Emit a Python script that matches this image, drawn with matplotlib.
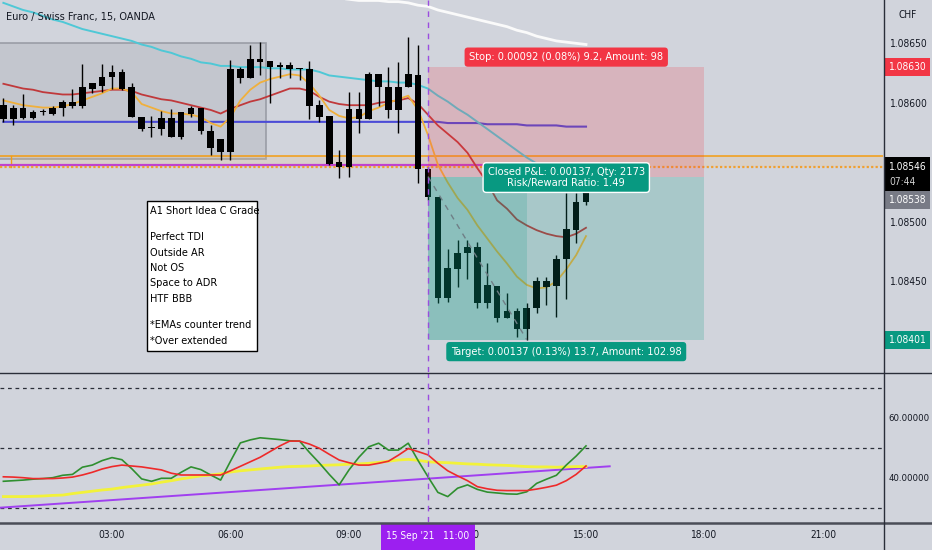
import matplotlib
matplotlib.use('Agg')
import matplotlib.pyplot as plt
from matplotlib.patches import Rectangle
from matplotlib import font_manager
from matplotlib.font_manager import FontProperties

# pick a condensed sans font if one is installed
_path = None
_entries = font_manager.fontManager.ttflist


def _regular(f):
    return f.style == 'normal' and f.weight in (400, 'normal', 'regular', 'book')


for test in (lambda f: f.name == 'Liberation Sans Narrow',
             lambda f: f.name == 'DejaVu Sans' and 'condensed' in str(f.stretch),
             lambda f: 'Condensed' in f.name or 'Narrow' in f.name):
    hits = [f for f in _entries if test(f) and _regular(f)]
    if hits:
        _path = hits[0].fname
        break
SCALE = 1.0 if _path else 0.88
plt.rcParams['font.family'] = ['Liberation Sans', 'DejaVu Sans']


def fp(size):
    if _path:
        return FontProperties(fname=_path, size=size)
    return FontProperties(family=['Liberation Sans', 'DejaVu Sans'], size=size * SCALE)


BG = '#d1d4dc'
TXT = '#131722'

# ---------------- data ----------------
bar_times = [0.25 * (i + 1) for i in range(60)]  # hours after 00:00, 15-minute bars

opens = [1.08598,1.08586,1.08596,1.08587,1.08592,1.08591,1.08596,1.08601,1.08597,1.08612,
         1.08614,1.08622,1.08626,1.08613,1.08588,1.08579,1.08578,1.08587,1.08571,1.08591,
         1.08596,1.08576,1.08570,1.08559,1.08628,1.08621,1.08637,1.08635,1.08630,1.08632,
         1.08629,1.08628,1.08598,1.08589,1.08550,1.08546,1.08595,1.08586,1.08624,1.08613,
         1.08594,1.08613,1.08623,1.08544,1.08521,1.08436,1.08460,1.08474,1.08479,1.08432,
         1.08446,1.08419,1.08425,1.08410,1.08428,1.08450,1.08446,1.08469,1.08493,1.08517]
highs = [1.08604,1.08598,1.08607,1.08594,1.08595,1.08597,1.08602,1.08612,1.08633,1.08617,
         1.08633,1.08632,1.08628,1.08617,1.08588,1.08589,1.08593,1.08595,1.08592,1.08597,
         1.08596,1.08581,1.08570,1.08636,1.08630,1.08649,1.08651,1.08635,1.08634,1.08634,
         1.08629,1.08635,1.08602,1.08589,1.08560,1.08609,1.08609,1.08626,1.08624,1.08630,
         1.08634,1.08655,1.08649,1.08546,1.08521,1.08477,1.08485,1.08485,1.08483,1.08465,
         1.08446,1.08440,1.08428,1.08432,1.08454,1.08454,1.08472,1.08524,1.08524,1.08525]
lows = [1.08584,1.08581,1.08586,1.08586,1.08590,1.08590,1.08589,1.08596,1.08596,1.08608,
        1.08609,1.08612,1.08611,1.08588,1.08576,1.08571,1.08573,1.08571,1.08570,1.08588,
        1.08574,1.08556,1.08552,1.08552,1.08617,1.08621,1.08623,1.08600,1.08621,1.08621,
        1.08619,1.08586,1.08584,1.08548,1.08537,1.08538,1.08575,1.08586,1.08597,1.08587,
        1.08575,1.08613,1.08533,1.08518,1.08432,1.08433,1.08445,1.08452,1.08428,1.08428,
        1.08416,1.08419,1.08403,1.08401,1.08423,1.08430,1.08420,1.08435,1.08482,1.08514]
closes = [1.08586,1.08596,1.08587,1.08592,1.08592,1.08596,1.08601,1.08597,1.08613,1.08617,
          1.08622,1.08626,1.08612,1.08588,1.08578,1.08579,1.08587,1.08571,1.08592,1.08596,
          1.08576,1.08562,1.08559,1.08628,1.08621,1.08637,1.08634,1.08630,1.08632,1.08628,
          1.08628,1.08597,1.08588,1.08549,1.08546,1.08595,1.08586,1.08624,1.08613,1.08594,
          1.08613,1.08624,1.08544,1.08521,1.08436,1.08461,1.08474,1.08479,1.08432,1.08447,
          1.08419,1.08425,1.08410,1.08428,1.08450,1.08445,1.08469,1.08494,1.08517,1.08524]

ema_red = [1.08616,1.08614,1.08612,1.08611,1.08609,1.08608,1.08607,1.08607,1.08608,1.08609,
           1.08610,1.08611,1.08611,1.08610,1.08607,1.08605,1.08603,1.08602,1.08600,1.08598,
           1.08596,1.08594,1.08591,1.08595,1.08598,1.08601,1.08603,1.08606,1.08609,1.08612,
           1.08612,1.08610,1.08605,1.08601,1.08599,1.08598,1.08598,1.08598,1.08600,1.08601,
           1.08602,1.08604,1.08599,1.08590,1.08581,1.08574,1.08567,1.08558,1.08545,1.08533,
           1.08518,1.08511,1.08502,1.08497,1.08493,1.08490,1.08488,1.08487,1.08490,1.08495]
ema_orange = [1.08602,1.08600,1.08598,1.08597,1.08596,1.08596,1.08597,1.08599,1.08602,1.08605,
              1.08608,1.08612,1.08612,1.08609,1.08599,1.08596,1.08593,1.08591,1.08591,1.08590,
              1.08588,1.08583,1.08580,1.08588,1.08602,1.08611,1.08617,1.08620,1.08622,1.08624,
              1.08623,1.08616,1.08606,1.08594,1.08589,1.08587,1.08588,1.08593,1.08596,1.08600,
              1.08603,1.08606,1.08594,1.08573,1.08548,1.08533,1.08520,1.08510,1.08497,1.08486,
              1.08475,1.08465,1.08454,1.08447,1.08444,1.08445,1.08450,1.08460,1.08472,1.08488]
ema_cyan = [1.08684,1.08681,1.08678,1.08676,1.08673,1.08670,1.08668,1.08665,1.08662,1.08660,
            1.08658,1.08656,1.08654,1.08652,1.08649,1.08647,1.08644,1.08642,1.08639,1.08637,
            1.08634,1.08633,1.08631,1.08631,1.08630,1.08630,1.08630,1.08629,1.08629,1.08628,
            1.08628,1.08628,1.08626,1.08623,1.08622,1.08621,1.08620,1.08619,1.08618,1.08618,
            1.08617,1.08617,1.08615,1.08612,1.08606,1.08601,1.08595,1.08590,1.08584,1.08578,
            1.08572,1.08566,1.08560,1.08554,1.08549,1.08544,1.08538,1.08533,1.08528,1.08523]
ema_white = [1.08695,1.08693,1.08691,1.08690,1.08688,1.08687,1.08686,1.08686,1.08686,1.08685,
             1.08685,1.08684,1.08682,1.08681,1.08678,1.08676,1.08674,1.08672,1.08670,1.08668,
             1.08666,1.08664,1.08661,1.08659,1.08656,1.08654,1.08652,1.08651,1.08650,1.08649]  # bars 30..59
ema_blue = [1.08584] * 45 + [1.08583] * 4 + [1.08582] * 4 + [1.08581] * 4 + [1.08580] * 3

tdi_green = [38.9,39.1,39.3,39.6,39.8,40.1,40.9,41.2,43.6,44.3,
             45.8,46.8,46.1,43.1,39.7,38.9,39.9,39.9,41.9,43.7,
             42.8,41.0,39.3,45.6,51.7,52.7,53.4,53.1,52.8,52.4,
             52.3,48.5,45.0,41.2,37.7,42.7,46.9,50.4,51.6,49.3,
             49.3,51.6,45.8,40.4,35.2,33.8,36.6,37.7,36.2,35.3,
             35.0,34.7,34.6,35.4,38.2,39.6,40.9,44.3,47.3,50.7]
tdi_red = [40.4,40.3,40.1,39.8,39.8,39.8,40.0,40.3,41.0,41.9,
           43.0,43.8,44.3,44.0,43.7,43.2,42.7,41.6,41.0,41.0,
           41.0,41.0,41.0,42.4,43.9,45.4,46.9,48.8,50.7,52.3,
           52.3,51.3,49.9,47.9,46.0,45.1,44.3,44.3,44.9,45.6,
           47.6,49.8,48.8,47.7,44.9,42.4,40.7,39.1,37.1,36.4,
           35.9,35.8,35.8,35.8,36.3,36.9,37.6,39.1,41.2,44.0]
tdi_yellow = [33.8,33.8,33.8,33.9,34.0,34.2,34.3,34.8,35.2,35.6,
              36.0,36.3,36.8,37.2,37.6,38.0,38.6,39.1,39.7,40.2,
              40.7,41.0,41.4,42.0,42.4,42.7,43.0,43.3,43.6,43.8,
              43.9,44.0,44.2,44.3,44.4,44.6,44.7,44.9,45.2,45.6,
              46.0,46.2,45.9,45.4,45.2,45.1,44.9,44.7,44.6,44.4,
              44.3,44.2,44.0,43.8,43.7,43.7,43.6,43.7,43.8,43.8]
tdi_trend_t = [0.16, 15.6]
tdi_trend_v = [30.1, 43.9]
tdi_levels = [70, 50, 30]

entry_t, exit_t, end_t = 11.0, 13.5, 18.0
entry_p, stop_p, target_p = 1.08538, 1.08630, 1.08401
last_price, pending_price = 1.08546, 1.08538
box_t = [-1.0, 6.9]
box_p = [1.08553, 1.08650]
zone_t = [0.45, 30.0]
zone_p = [1.08546, 1.08555]
level_magenta = 1.08548
level_magenta_end = 12.4

time_ticks = [3, 6, 9, 12, 15, 18, 21]
time_labels = ['03:00', '06:00', '09:00', '12:00', '15:00', '18:00', '21:00']
price_ticks = [1.08650, 1.08600, 1.08500, 1.08450]
tdi_ticks = [60, 40]

note_lines = ['A1 Short Idea C Grade', '', 'Perfect TDI', 'Outside AR', 'Not OS',
              'Space to ADR', 'HTF BBB', '', '*EMAs counter trend', '*Over extended']

# ---------------- figure ----------------
W, H = 932, 550
fig = plt.figure(figsize=(W / 100, H / 100), dpi=100, facecolor=BG)
AXR = 883
ax = fig.add_axes([0, 1 - 372 / H, AXR / W, 372 / H], facecolor=BG)
ax2 = fig.add_axes([0, 1 - 522 / H, AXR / W, 149 / H], facecolor=BG)

XL = (6.5 / 39.5, (AXR + 6.5) / 39.5)
for a in (ax, ax2):
    a.set_xlim(*XL)
    for s in a.spines.values():
        s.set_visible(False)
ax.set_ylim(1.083738, 1.086864)
ax2.set_ylim(25.33, 75)

# gray box drawing
ax.add_patch(Rectangle((box_t[0], box_p[0]), box_t[1] - box_t[0], box_p[1] - box_p[0],
                       facecolor='#c3c6ce', edgecolor='#9a9da6', lw=1.2, zorder=1))
# orange zone
ax.add_patch(Rectangle((zone_t[0], zone_p[0]), zone_t[1] - zone_t[0], zone_p[1] - zone_p[0],
                       facecolor='#f5c27a', alpha=0.18, edgecolor='none', zorder=1))
ax.axhline(zone_p[1], color='#f39c12', lw=1.1, zorder=2)
ax.plot([zone_t[0], zone_t[0]], zone_p, color='#f39c12', lw=1.0, zorder=2)
ax.plot([XL[0] - 1, level_magenta_end], [level_magenta] * 2, color='#c040d0', lw=1.6, zorder=2)
ax.axhline(last_price, color='#f0a030', lw=1.6, ls=(0, (1, 1)), zorder=2)

# moving averages
ax.plot(bar_times, ema_blue, color='#4b4bd6', lw=1.5, zorder=3)
ax.plot(bar_times, ema_cyan, color='#4fc8d6', lw=1.4, zorder=3)
ax.plot(bar_times[30:], ema_white, color='#fafafa', lw=2.0, zorder=3)
ax.plot(bar_times, ema_red, color='#c0393b', lw=1.3, zorder=3)
ax.plot(bar_times, ema_orange, color='#f0b03c', lw=1.3, zorder=3)

# candles
bw = 0.17
ax.vlines(bar_times, lows, highs, color='black', lw=1.0, zorder=4)
bottoms = [min(o, c) for o, c in zip(opens, closes)]
heights = [max(abs(o - c), 0.000008) for o, c in zip(opens, closes)]
ax.bar(bar_times, heights, bottom=bottoms, width=bw, color='black', zorder=4)

# short position tool
ax.add_patch(Rectangle((entry_t, entry_p), end_t - entry_t, stop_p - entry_p,
                       facecolor='#f23645', alpha=0.2, edgecolor='none', zorder=5))
ax.add_patch(Rectangle((entry_t, target_p), end_t - entry_t, entry_p - target_p,
                       facecolor='#089981', alpha=0.2, edgecolor='none', zorder=5))
ax.add_patch(Rectangle((entry_t, target_p), exit_t - entry_t, entry_p - target_p,
                       facecolor='#089981', alpha=0.18, edgecolor='none', zorder=5))
ax.plot([entry_t, exit_t], [entry_p, target_p], color='#6f7f86', lw=1.0, ls=(0, (4, 4)), zorder=6)

for a in (ax, ax2):
    a.axvline(entry_t, color='#9b4de0', lw=1.0, ls=(0, (4, 4)), zorder=6)

LF = 7.9
ax.annotate('Stop: 0.00092 (0.08%) 9.2, Amount: 98', xy=((entry_t + end_t) / 2, stop_p),
            xytext=(0, 10), textcoords='offset pixels', ha='center', va='center',
            color='white', fontproperties=fp(LF), zorder=8,
            bbox=dict(boxstyle='round,pad=0.42,rounding_size=0.3', fc='#f23645', ec='none'))
ax.annotate('Closed P&L: 0.00137, Qty: 2173\nRisk/Reward Ratio: 1.49',
            xy=((entry_t + end_t) / 2, entry_p), xytext=(0, -1), textcoords='offset pixels',
            ha='center', va='center', color='white', fontproperties=fp(LF), zorder=8,
            linespacing=1.05,
            bbox=dict(boxstyle='round,pad=0.42,rounding_size=0.3', fc='#089981', ec='white', lw=1.0))
ax.annotate('Target: 0.00137 (0.13%) 13.7, Amount: 102.98', xy=((entry_t + end_t) / 2, target_p),
            xytext=(0, -12), textcoords='offset pixels', ha='center', va='center',
            color='white', fontproperties=fp(LF), zorder=8,
            bbox=dict(boxstyle='round,pad=0.42,rounding_size=0.3', fc='#089981', ec='none'))

# axes ticks
AF = 7.3
TF = 6.8
ax.yaxis.tick_right()
ax.set_yticks(price_ticks)
ax.set_yticklabels(['%.5f' % p for p in price_ticks])
ax.tick_params(axis='y', length=0, pad=5, labelcolor=TXT)
ax.tick_params(axis='x', bottom=False, labelbottom=False)
for t in ax.get_yticklabels():
    t.set_fontproperties(fp(AF))

ax2.yaxis.tick_right()
ax2.set_yticks(tdi_ticks)
ax2.set_yticklabels(['%.5f' % v for v in tdi_ticks])
ax2.tick_params(axis='y', length=0, pad=4, labelcolor=TXT)
ax2.set_xticks(time_ticks)
ax2.set_xticklabels(time_labels)
ax2.tick_params(axis='x', length=0, pad=6, labelcolor=TXT)
for t in ax2.get_yticklabels():
    t.set_fontproperties(fp(TF))
for t in ax2.get_xticklabels():
    t.set_fontproperties(fp(AF))

# TDI
for lv in tdi_levels:
    ax2.axhline(lv, color='#2a2e39', lw=0.9, ls=(0, (3, 3)), zorder=1)
ax2.plot(tdi_trend_t, tdi_trend_v, color='#a040f0', lw=1.4, zorder=2)
ax2.plot(bar_times, tdi_yellow, color='#f2f23a', lw=2.0, zorder=3)
ax2.plot(bar_times, tdi_green, color='#2f8f2f', lw=1.2, zorder=4)
ax2.plot(bar_times, tdi_red, color='#ee2a2a', lw=1.2, zorder=4)

# ---------------- overlay (pixel space) ----------------
ov = fig.add_axes([0, 0, 1, 1], facecolor='none', zorder=10)
ov.set_xlim(0, W)
ov.set_ylim(H, 0)
ov.axis('off')


def ypix(a, val):
    return H - a.transData.transform((XL[0], val))[1]


def xpix(a, t):
    return a.transData.transform((t, 0))[0]


ov.plot([0, W], [372.5, 372.5], color='#2a2e39', lw=1.0)
ov.plot([0, W], [522.5, 522.5], color='#4a4d57', lw=1.8)
ov.plot([AXR + 0.5, AXR + 0.5], [0, H], color='#2a2e39', lw=1.0)

ov.text(6, 17, 'Euro / Swiss Franc, 15, OANDA', fontproperties=fp(7.8), color=TXT, va='center', ha='left')
ov.text(908, 15, 'CHF', fontproperties=fp(AF), color=TXT, va='center', ha='center')


def price_label(yc, text, fc, h=18, tc='white'):
    ov.add_patch(Rectangle((AXR + 1, yc - h / 2), W - AXR - 3, h, facecolor=fc, edgecolor='none'))
    ov.text(AXR + 6, yc, text, fontproperties=fp(AF), color=tc, va='center', ha='left')


price_label(ypix(ax, stop_p), '%.5f' % stop_p, '#f23645')
y_last = ypix(ax, last_price)
ov.add_patch(Rectangle((AXR + 1, y_last - 10), W - AXR - 3, 34, facecolor='black', edgecolor='none'))
ov.text(AXR + 6, y_last, '%.5f' % last_price, fontproperties=fp(AF), color='white', va='center', ha='left')
ov.text(AXR + 6, y_last + 15, '07:44', fontproperties=fp(AF), color='#d0d0d0', va='center', ha='left')
price_label(y_last + 33, '%.5f' % pending_price, '#787b86')
price_label(ypix(ax, target_p), '%.5f' % target_p, '#089981')

# note box (blank lines are shorter than text lines)
ov.add_patch(Rectangle((146.5, 200.5), 110, 150, facecolor='white', edgecolor='black', lw=1.0))
yy = 211.0
for line in note_lines:
    if line:
        ov.text(150, yy, line, fontproperties=fp(7.8), color='black', va='center', ha='left')
        yy += 15.5
    else:
        yy += 10.5

# time marker label
xe = xpix(ax2, entry_t)
ov.add_patch(Rectangle((xe - 47, 523.5), 94, 27, facecolor='#9c1ff0', edgecolor='none'))
ov.text(xe, 536, "15 Sep '21   11:00", fontproperties=fp(AF), color='white', va='center', ha='center')

fig.savefig('out.png', dpi=100, facecolor=BG)
